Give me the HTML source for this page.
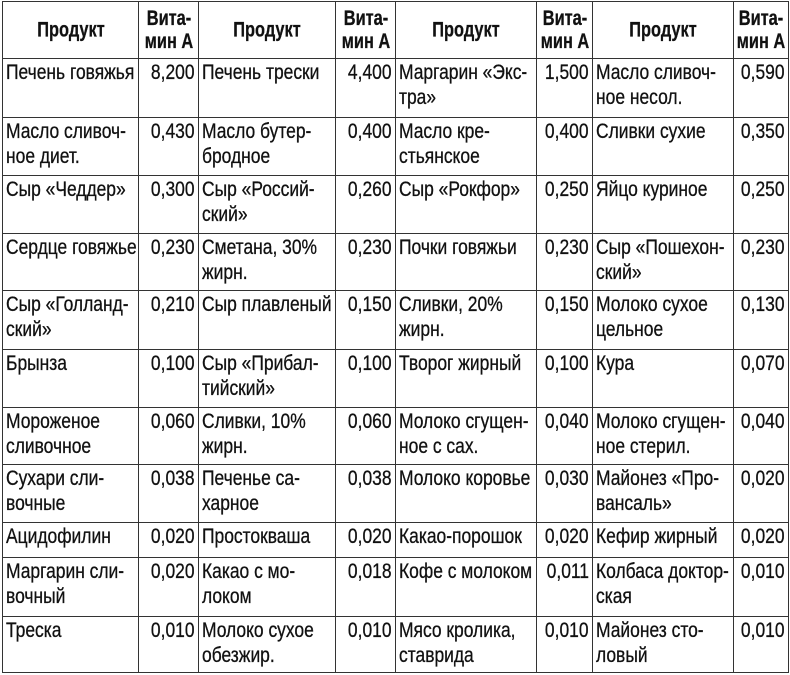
<!DOCTYPE html>
<html><head><meta charset="utf-8"><style>
body{margin:0;background:#fff;width:790px;height:675px;overflow:hidden}
table{position:absolute;left:2px;top:1px;width:786px;border-collapse:collapse;table-layout:fixed;font-family:"Liberation Sans",sans-serif;font-size:21px;color:#111}
td{border:1.5px solid #333;padding:1px 0 0 3px;vertical-align:top;line-height:25px;overflow:visible;white-space:nowrap;-webkit-text-stroke:0.3px #111;position:relative}
td span{display:inline-block;width:0;transform:scaleX(.83);transform-origin:left top}
td.n span{position:absolute;right:3px;top:1px;width:auto;transform-origin:right top}
tr.h td{font-weight:bold;text-align:center;vertical-align:middle;line-height:23px;padding:0}
tr.h td span{position:absolute;left:50%;top:50%;width:auto;transform:translate(-50%,-50%) scaleX(.78);transform-origin:center center}
</style></head><body>
<table>
<colgroup><col style="width:136px"><col style="width:60px"><col style="width:137px"><col style="width:60px"><col style="width:141px"><col style="width:56px"><col style="width:141px"><col style="width:55px"></colgroup>
<tr class="h" style="height:57px"><td><span>Продукт</span></td><td><span>Вита-<br>мин А</span></td><td><span>Продукт</span></td><td><span>Вита-<br>мин А</span></td><td><span>Продукт</span></td><td><span>Вита-<br>мин А</span></td><td><span>Продукт</span></td><td><span>Вита-<br>мин А</span></td></tr>
<tr style="height:59px"><td><span>Печень говяжья</span></td><td class="n"><span>8,200</span></td><td><span>Печень трески</span></td><td class="n"><span>4,400</span></td><td><span>Маргарин «Экс-<br>тра»</span></td><td class="n"><span>1,500</span></td><td><span>Масло сливоч-<br>ное несол.</span></td><td class="n"><span>0,590</span></td></tr>
<tr style="height:58px"><td><span>Масло сливоч-<br>ное диет.</span></td><td class="n"><span>0,430</span></td><td><span>Масло бутер-<br>бродное</span></td><td class="n"><span>0,400</span></td><td><span>Масло кре-<br>стьянское</span></td><td class="n"><span>0,400</span></td><td><span>Сливки сухие</span></td><td class="n"><span>0,350</span></td></tr>
<tr style="height:58px"><td><span>Сыр «Чеддер»</span></td><td class="n"><span>0,300</span></td><td><span>Сыр «Россий-<br>ский»</span></td><td class="n"><span>0,260</span></td><td><span>Сыр «Рокфор»</span></td><td class="n"><span>0,250</span></td><td><span>Яйцо куриное</span></td><td class="n"><span>0,250</span></td></tr>
<tr style="height:57px"><td><span>Сердце говяжье</span></td><td class="n"><span>0,230</span></td><td><span>Сметана, 30%<br>жирн.</span></td><td class="n"><span>0,230</span></td><td><span>Почки говяжьи</span></td><td class="n"><span>0,230</span></td><td><span>Сыр «Пошехон-<br>ский»</span></td><td class="n"><span>0,230</span></td></tr>
<tr style="height:59px"><td><span>Сыр «Голланд-<br>ский»</span></td><td class="n"><span>0,210</span></td><td><span>Сыр плавленый</span></td><td class="n"><span>0,150</span></td><td><span>Сливки, 20%<br>жирн.</span></td><td class="n"><span>0,150</span></td><td><span>Молоко сухое<br>цельное</span></td><td class="n"><span>0,130</span></td></tr>
<tr style="height:58px"><td><span>Брынза</span></td><td class="n"><span>0,100</span></td><td><span>Сыр «Прибал-<br>тийский»</span></td><td class="n"><span>0,100</span></td><td><span>Творог жирный</span></td><td class="n"><span>0,100</span></td><td><span>Кура</span></td><td class="n"><span>0,070</span></td></tr>
<tr style="height:57px"><td><span>Мороженое<br>сливочное</span></td><td class="n"><span>0,060</span></td><td><span>Сливки, 10%<br>жирн.</span></td><td class="n"><span>0,060</span></td><td><span>Молоко сгущен-<br>ное с сах.</span></td><td class="n"><span>0,040</span></td><td><span>Молоко сгущен-<br>ное стерил.</span></td><td class="n"><span>0,040</span></td></tr>
<tr style="height:58px"><td><span>Сухари сли-<br>вочные</span></td><td class="n"><span>0,038</span></td><td><span>Печенье са-<br>харное</span></td><td class="n"><span>0,038</span></td><td><span>Молоко коровье</span></td><td class="n"><span>0,030</span></td><td><span>Майонез «Про-<br>вансаль»</span></td><td class="n"><span>0,020</span></td></tr>
<tr style="height:35px"><td><span>Ацидофилин</span></td><td class="n"><span>0,020</span></td><td><span>Простокваша</span></td><td class="n"><span>0,020</span></td><td><span>Какао-порошок</span></td><td class="n"><span>0,020</span></td><td><span>Кефир жирный</span></td><td class="n"><span>0,020</span></td></tr>
<tr style="height:59px"><td><span>Маргарин сли-<br>вочный</span></td><td class="n"><span>0,020</span></td><td><span>Какао с мо-<br>локом</span></td><td class="n"><span>0,018</span></td><td><span>Кофе с молоком</span></td><td class="n"><span>0,011</span></td><td><span>Колбаса доктор-<br>ская</span></td><td class="n"><span>0,010</span></td></tr>
<tr style="height:56px"><td><span>Треска</span></td><td class="n"><span>0,010</span></td><td><span>Молоко сухое<br>обезжир.</span></td><td class="n"><span>0,010</span></td><td><span>Мясо кролика,<br>ставрида</span></td><td class="n"><span>0,010</span></td><td><span>Майонез сто-<br>ловый</span></td><td class="n"><span>0,010</span></td></tr>
</table>
</body></html>
